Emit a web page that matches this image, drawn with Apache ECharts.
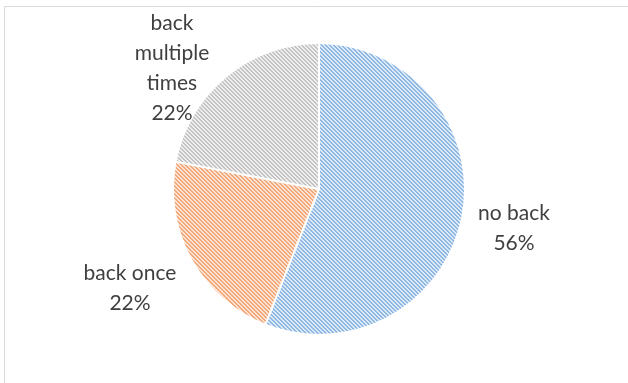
<!DOCTYPE html>
<html><head><meta charset="utf-8">
<script src="https://cdn.jsdelivr.net/npm/echarts@6/dist/echarts.min.js"></script>
<style>html,body{margin:0;padding:0;background:#fff}#c{width:628px;height:383px}</style>
</head><body><div id="c"></div>
<script>
const categories = ['no back', 'back once', 'back\nmultiple\ntimes'];
const values = [56, 22, 22];
const percentLabels = ['56%', '22%', '22%'];
const stripeColors = ['#8DB7E2', '#F2A878', '#C4C4C4'];
const gapColors = ['#DDEAF7', '#FCE3D3', '#EEEEEE'];

function stripe(color, gap) {
  const c = document.createElement('canvas');
  c.width = 8; c.height = 8;
  const g = c.getContext('2d');
  g.fillStyle = gap;
  g.fillRect(0, 0, 8, 8);
  g.fillStyle = color;
  for (let y = 0; y < 8; y++) for (let x = 0; x < 8; x++) {
    const m = ((x - y) % 4 + 4) % 4;
    if (m < 2) g.fillRect(x, y, 1, 1);
  }
  return c;
}

const labelPos = [[514, 228], [130, 288], [172, 68]];

const chart = echarts.init(document.getElementById('c'));
chart.setOption({
  animation: false,
  graphic: [{type: 'rect', shape: {x: 4.5, y: 6.5, width: 700, height: 500}, style: {fill: 'none', stroke: '#D9D9D9', lineWidth: 1}, silent: true}],
  series: [{
    type: 'pie',
    center: [319, 189],
    radius: 146,
    startAngle: 90,
    clockwise: true,
    data: categories.map((n, i) => ({
      name: n, value: values[i],
      itemStyle: {color: {image: stripe(stripeColors[i], gapColors[i]), repeat: 'repeat'}}
    })),
    itemStyle: {borderColor: '#fff', borderWidth: 2},
    label: {
      show: true, position: 'outside',
      formatter: p => p.name + '\n' + percentLabels[p.dataIndex],
      fontFamily: 'Lato', fontSize: 21, color: '#404040', lineHeight: 30, align: 'center'
    },
    labelLine: {show: false},
    labelLayout: p => ({x: labelPos[p.dataIndex][0], y: labelPos[p.dataIndex][1], align: 'center', verticalAlign: 'middle'})
  }]
});
</script></body></html>
